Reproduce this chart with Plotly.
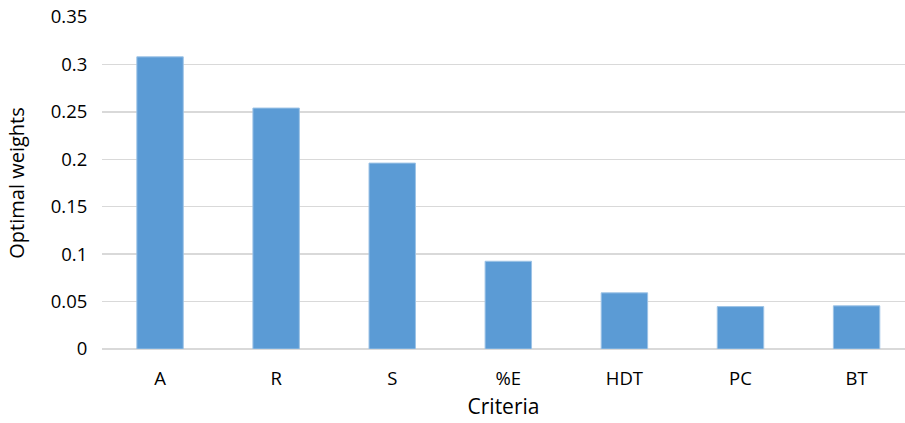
import plotly.graph_objects as go

categories = ["A", "R", "S", "%E", "HDT", "PC", "BT"]
weights = [0.308, 0.254, 0.196, 0.0925, 0.0592, 0.0447, 0.0455]
y_ticks = [0, 0.05, 0.1, 0.15, 0.2, 0.25, 0.3, 0.35]
y_tick_labels = ["0", "0.05", "0.1", "0.15", "0.2", "0.25", "0.3", "0.35"]

fig = go.Figure(
    go.Bar(
        x=categories,
        y=weights,
        marker=dict(color="#5b9bd5", line=dict(color="#9dc3e6", width=1)),
        width=0.4,
        hoverinfo="skip",
    )
)

font_family = "Open Sans"
fig.update_layout(
    width=905,
    height=423,
    margin=dict(l=102, r=0, t=17, b=74, autoexpand=False),
    paper_bgcolor="white",
    plot_bgcolor="white",
    showlegend=False,
    font=dict(family=font_family, color="#000000"),
)
fig.update_xaxes(
    range=[-0.5, 6.417],
    showgrid=False,
    showline=False,
    zeroline=False,
    ticks="outside",
    ticklen=13,
    tickcolor="rgba(0,0,0,0)",
    tickfont=dict(size=18.5, family=font_family, color="#000000"),
    title=dict(text="Criteria", font=dict(size=21, family=font_family, color="#000000"), standoff=10),
)
fig.update_yaxes(
    range=[0, 0.35],
    tickvals=y_ticks,
    ticktext=y_tick_labels,
    showgrid=True,
    gridcolor="#d9d9d9",
    gridwidth=1.5,
    zeroline=True,
    zerolinecolor="#d9d9d9",
    zerolinewidth=2.5,
    showline=False,
    ticks="outside",
    ticklen=10,
    tickcolor="rgba(0,0,0,0)",
    tickfont=dict(size=18.5, family=font_family, color="#000000"),
    title=dict(text="Optimal weights", font=dict(size=20, family=font_family, color="#000000"), standoff=20),
)

fig.write_html(
    "out.html",
    config={"displayModeBar": False, "staticPlot": True},
    post_script="document.body.style.margin='0';document.body.style.overflow='hidden';",
)
